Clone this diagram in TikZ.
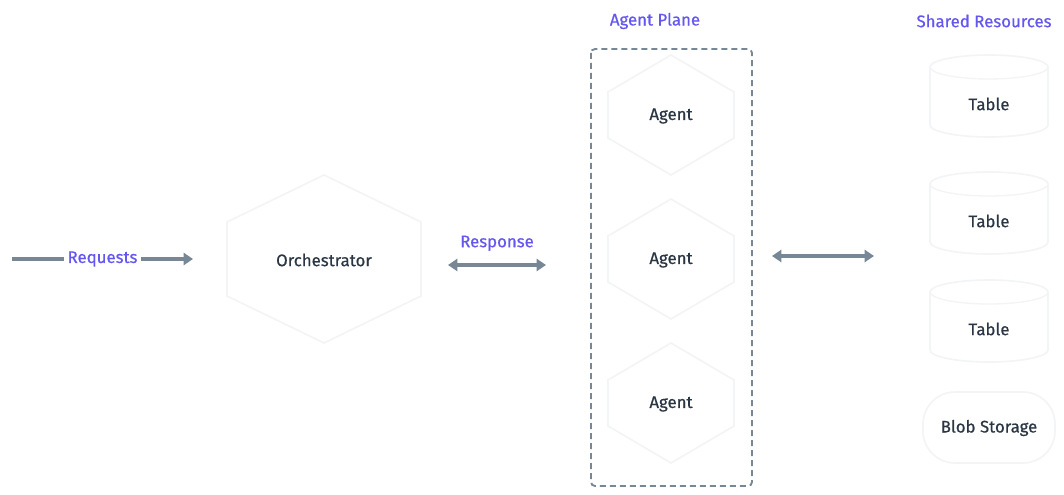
\documentclass[tikz,border=0pt]{standalone}
\usepackage{fontspec}
\setmainfont{Fira Sans}[FakeBold=0.5]
\usetikzlibrary{arrows.meta}
\definecolor{purp}{HTML}{6457F0}
\definecolor{slate}{HTML}{778796}
\definecolor{ink}{HTML}{2A3644}
\definecolor{faint}{HTML}{F3F4F6}
\newcommand{\hexshape}[5]{%
  \path[shapeline] (#1,#2-#4) -- (#1+#3,#2-#5) -- (#1+#3,#2+#5) -- (#1,#2+#4)
    -- (#1-#3,#2+#5) -- (#1-#3,#2-#5) -- cycle;}
\newcommand{\cylshape}[3]{% cx, top, bottom
  \path[shapeline] (#1-59,#2+12) -- (#1-59,#3-12)
    arc[start angle=180,end angle=360,x radius=44.25pt,y radius=9pt]
    -- (#1+59,#2+12)
    arc[start angle=0,end angle=180,x radius=44.25pt,y radius=9pt] -- cycle;
  \draw[faint,line width=1pt] (#1-59,#2+12)
    arc[start angle=180,end angle=360,x radius=44.25pt,y radius=9pt];}
\begin{document}
\begin{tikzpicture}[x=0.75pt,y=-0.75pt,
  lbl/.style={font=\fontsize{12.6}{14}\selectfont, text=ink},
  grp/.style={font=\fontsize{12.6}{14}\selectfont, text=purp},
  shapeline/.style={draw=faint, fill=white, line width=1.2pt},
  conn/.style={draw=slate, line width=2.6pt, -{Triangle[length=7pt,width=9pt]}},
  bconn/.style={draw=slate, line width=2.6pt, {Triangle[length=7pt,width=9pt]}-{Triangle[length=7pt,width=9pt]}},
  plane/.style={draw=slate, line width=1.4pt, dash pattern=on 4.5pt off 3pt, rounded corners=3pt}]
\useasboundingbox[fill=white] (0,0) rectangle (1064,495);

% Orchestrator
\hexshape{324}{259}{97}{84}{37}
\node[lbl] (orch) at (324,260) {Orchestrator};

% Agent plane
\draw[plane] (591,49) rectangle (752,486);
\node[grp] (planelbl) at (655,21) {Agent Plane};
\hexshape{671}{115}{63}{60}{23}
\node[lbl] (ag1) at (671,116) {Agent};
\hexshape{671}{259}{63}{60}{23}
\node[lbl] (ag2) at (671,260) {Agent};
\hexshape{671}{403}{63}{60}{23}
\node[lbl] (ag3) at (671,404) {Agent};

% Shared resources
\node[grp] (reslbl) at (984,21) {Shared Resources};
\cylshape{989}{55}{137}
\node[lbl] (t1) at (989,104) {Table};
\cylshape{989}{172}{254}
\node[lbl] (t2) at (989,221) {Table};
\cylshape{989}{280}{362}
\node[lbl] (t3) at (989,329) {Table};
\path[shapeline, rounded corners=24pt] (923,392) rectangle (1055,463);
\node[lbl] (blob) at (989,428) {Blob Storage};

% Connectors
\coordinate (reqs) at (12,259);
\coordinate (reqe) at (193,259);
\draw[conn] (reqs) -- node[grp, fill=white, inner sep=3pt] (reqlbl) {Requests} (reqe);

\coordinate (rs) at (448,265);
\coordinate (re) at (546,265);
\draw[bconn] (rs) -- node[grp, above=6pt] (resplbl) {Response} (re);

\coordinate (as) at (772,256);
\coordinate (ae) at (874,256);
\draw[bconn] (as) -- (ae);
\end{tikzpicture}
\end{document}
